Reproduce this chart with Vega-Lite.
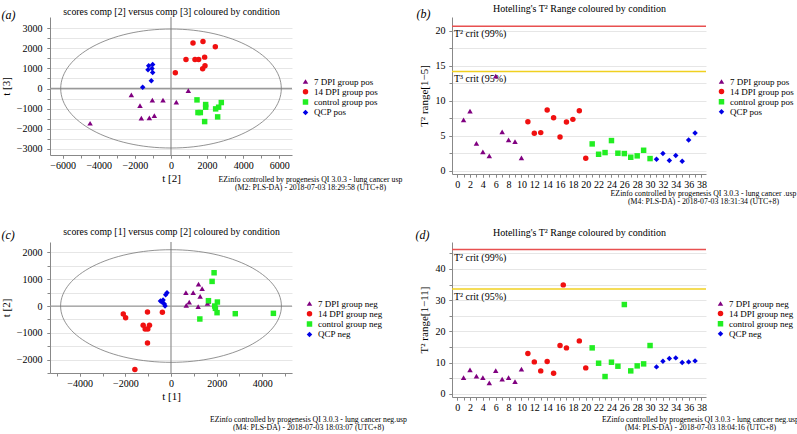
{
"$schema":"https://vega.github.io/schema/vega-lite/v6.json",
"padding":{"left":0,"top":3,"right":0,"bottom":0},
"config":{
 "font":"Liberation Serif",
 "view":{"stroke":null},
 "axis":{"labelFont":"Liberation Serif","titleFont":"Liberation Serif","labelFontSize":10,"titleFontSize":11,"titleFontWeight":"normal","domainColor":"#888","tickColor":"#888","gridColor":"#e6e6e6","labelColor":"#000","titleColor":"#000","tickSize":3,"labelPadding":2,"labelOverlap":false,"labelFlush":false},
 "legend":{"labelFont":"Liberation Serif","labelFontSize":9,"labelColor":"#000"},
 "title":{"font":"Liberation Serif","fontWeight":"normal","color":"#000"}
},
"resolve":{"scale":{"color":"independent","shape":"independent","stroke":"independent"}},
"columns":2,"bounds":"flush","align":"all","spacing":{"row":68,"column":148},
"concat":[
 {"width":242,"height":138,
  "resolve":{"axis":{"x":"independent","y":"independent"}},
  "layer":[
   {"data":{"values":[{}]},"mark":{"type":"rule","color":"#999","strokeWidth":1.3},"encoding":{"x":{"datum":0,"scale":{"domain":[-6700,6700],"nice":false,"zero":false},"axis":{"orient":"bottom","values":[-6000,-5000,-4000,-3000,-2000,-1000,0,1000,2000,3000,4000,5000,6000],"labels":false,"ticks":true,"domain":false,"grid":false,"title":["EZinfo controlled by progenesis QI 3.0.3 - lung cancer usp","(M2: PLS-DA) - 2018-07-03 18:29:58 (UTC+8)"],"titleX":260,"titleY":20,"titleAlign":"center","titleBaseline":"top","titleFontSize":7.8,"titleLineHeight":8.4}}}},
   {"data":{"values":[{}]},"mark":{"type":"rule","color":"#999","strokeWidth":1.3},"encoding":{"y":{"datum":0,"scale":{"domain":[-3300,3550],"nice":false,"zero":false},"axis":{"orient":"left","values":[-3000,-2500,-2000,-1500,-1000,-500,0,500,1000,1500,2000,2500,3000],"labels":false,"ticks":true,"domain":false,"grid":true,"title":"(a)","titleAngle":0,"titleX":-49,"titleY":-3,"titleAlign":"left","titleBaseline":"middle","titleFontSize":12,"titleFontStyle":"italic"}}}},
   {"data":{"values":[{}]},"mark":{"type":"point","filled":false,"stroke":"#777","strokeWidth":0.8,"opacity":1,"size":48664,"shape":"M-1,0C-1,-0.2979,-0.5523,-0.5394,0,-0.5394C0.5523,-0.5394,1,-0.2979,1,0C1,0.2979,0.5523,0.5394,0,0.5394C-0.5523,0.5394,-1,0.2979,-1,0Z"},
    "encoding":{"x":{"datum":0,"scale":{"domain":[-6700,6700],"nice":false,"zero":false},"axis":{"orient":"top","title":"scores comp [2] versus comp [3] coloured by condition","titleFontSize":9.8,"titleX":121,"titleY":-6,"titleAlign":"center","titleBaseline":"middle","labels":false,"ticks":false,"domain":false,"grid":false}},"y":{"datum":0,"scale":{"domain":[-3300,3550],"nice":false,"zero":false},"axis":null}}},
   {"data":{"values":[
   {"x":-4480,"y":-1724,"g":"7 DPI group pos"},{"x":-2196,"y":-315,"g":"7 DPI group pos"},{"x":-1716,"y":-845,"g":"7 DPI group pos"},{"x":-1642,"y":-1475,"g":"7 DPI group pos"},{"x":-1199,"y":-1459,"g":"7 DPI group pos"},{"x":-1033,"y":-580,"g":"7 DPI group pos"},{"x":-922,"y":-1343,"g":"7 DPI group pos"},{"x":-443,"y":-580,"g":"7 DPI group pos"},{"x":295,"y":-680,"g":"7 DPI group pos"},{"x":959,"y":-99,"g":"7 DPI group pos"},
   {"x":240,"y":779,"g":"14 DPI group pos"},{"x":830,"y":1442,"g":"14 DPI group pos"},{"x":1218,"y":2254,"g":"14 DPI group pos"},{"x":1328,"y":1442,"g":"14 DPI group pos"},{"x":1531,"y":1442,"g":"14 DPI group pos"},{"x":1771,"y":2337,"g":"14 DPI group pos"},{"x":1863,"y":1558,"g":"14 DPI group pos"},{"x":1753,"y":978,"g":"14 DPI group pos"},{"x":1882,"y":1127,"g":"14 DPI group pos"},{"x":2454,"y":2072,"g":"14 DPI group pos"},
   {"x":1439,"y":-564,"g":"control group pos"},{"x":1919,"y":-796,"g":"control group pos"},{"x":1919,"y":-928,"g":"control group pos"},{"x":1494,"y":-1193,"g":"control group pos"},{"x":1624,"y":-1193,"g":"control group pos"},{"x":1863,"y":-1641,"g":"control group pos"},{"x":2472,"y":-1011,"g":"control group pos"},{"x":2638,"y":-928,"g":"control group pos"},{"x":2786,"y":-696,"g":"control group pos"},{"x":2583,"y":-1409,"g":"control group pos"},
   {"x":-1236,"y":1127,"g":"QCP pos"},{"x":-1015,"y":1193,"g":"QCP pos"},{"x":-1273,"y":928,"g":"QCP pos"},{"x":-1052,"y":995,"g":"QCP pos"},{"x":-1015,"y":796,"g":"QCP pos"},{"x":-1089,"y":381,"g":"QCP pos"},{"x":-1568,"y":66,"g":"QCP pos"}
   ]},
    "mark":{"type":"point","filled":true,"size":30,"opacity":1},
    "encoding":{
     "x":{"field":"x","type":"quantitative","scale":{"domain":[-6700,6700],"nice":false,"zero":false},"axis":{"orient":"bottom","title":"t [2]","format":"d","values":[-6000,-4000,-2000,0,2000,4000,6000],"labelOverlap":false,"grid":false,"titlePadding":2}},
     "y":{"field":"y","type":"quantitative","scale":{"domain":[-3300,3550],"nice":false,"zero":false},"axis":{"orient":"left","title":"t [3]","format":"d","values":[-3000,-2000,-1000,0,1000,2000,3000],"labelOverlap":false,"grid":false,"labelPadding":5,"titlePadding":5}},
     "color":{"field":"g","type":"nominal","scale":{"domain":["7 DPI group pos","14 DPI group pos","control group pos","QCP pos"],"range":["#800080","#f01010","#22ee22","#0000e6"]},"legend":{"title":null,"orient":"none","legendX":251,"legendY":60,"symbolSize":30,"rowPadding":0.3,"clipHeight":9,"padding":0,"labelOffset":4,"labelFontSize":9}},
     "shape":{"field":"g","type":"nominal","scale":{"domain":["7 DPI group pos","14 DPI group pos","control group pos","QCP pos"],"range":["triangle-up","circle","square","diamond"]},"legend":{"title":null,"orient":"none","legendX":251,"legendY":60,"symbolSize":30,"rowPadding":0.3,"clipHeight":9,"padding":0,"labelOffset":4,"labelFontSize":9}}
    }}
  ]
 },
 {"width":254,"height":157,
  "resolve":{"axis":{"x":"independent","y":"independent"}},
  "layer":[
   {"data":{"name":"critb","values":[{"v":20.67,"t":"T² crit (99%)","c":"99"},{"v":14.2,"t":"T³ crit (95%)","c":"95"}]},
    "mark":{"type":"rule","strokeWidth":1.5},
    "encoding":{"y":{"field":"v","type":"quantitative","scale":{"domain":[-0.5,22],"nice":false,"zero":false},"axis":{"orient":"left","values":[0,2.5,5,7.5,10,12.5,15,17.5,20],"labels":false,"ticks":true,"domain":false,"grid":true,"title":"(b)","titleAngle":0,"titleX":-36,"titleY":-4,"titleAlign":"left","titleBaseline":"middle","titleFontSize":12,"titleFontStyle":"italic"}},
     "stroke":{"field":"c","type":"nominal","scale":{"domain":["99","95"],"range":["#e85050","#f0d020"]},"legend":null}}},
   {"data":{"name":"critb"},"transform":[{"filter":"datum.c == '99'"}],
    "mark":{"type":"text","align":"left","baseline":"top","dy":3,"fontSize":10,"font":"Liberation Serif"},
    "encoding":{"x":{"datum":-0.5,"scale":{"domain":[-0.8,38.7],"nice":false,"zero":false},"axis":{"orient":"top","title":"Hotelling's T² Range coloured by condition","titleFontSize":10,"titleX":127,"titleY":-9,"titleAlign":"center","titleBaseline":"middle","labels":false,"ticks":false,"domain":false,"grid":false}},"y":{"field":"v","type":"quantitative","axis":null},"text":{"field":"t"}}},
   {"data":{"name":"critb"},"transform":[{"filter":"datum.c == '95'"}],
    "mark":{"type":"text","align":"left","baseline":"top","dy":3,"fontSize":10,"font":"Liberation Serif"},
    "encoding":{"x":{"datum":-0.5,"axis":{"orient":"bottom","values":[0,1,2,3,4,5,6,7,8,9,10,11,12,13,14,15,16,17,18,19,20,21,22,23,24,25,26,27,28,29,30,31,32,33,34,35,36,37,38],"labels":false,"ticks":true,"domain":false,"grid":false,"title":["EZinfo controlled by progenesis QI 3.0.3 - lung cancer .usp","(M4: PLS-DA) - 2018-07-03 18:31:34 (UTC+8)"],"titleX":251,"titleY":15,"titleAlign":"center","titleBaseline":"top","titleFontSize":7.8,"titleLineHeight":8.8}},"y":{"field":"v","type":"quantitative","axis":null},"text":{"field":"t"}}},
   {"data":{"values":[
   {"i":1,"v":7.24,"g":"7 DPI group pos"},{"i":2,"v":8.52,"g":"7 DPI group pos"},{"i":3,"v":3.9,"g":"7 DPI group pos"},{"i":4,"v":2.67,"g":"7 DPI group pos"},{"i":5,"v":2.1,"g":"7 DPI group pos"},{"i":6,"v":13.52,"g":"7 DPI group pos"},{"i":7,"v":5.52,"g":"7 DPI group pos"},{"i":8,"v":4.38,"g":"7 DPI group pos"},{"i":9,"v":4.14,"g":"7 DPI group pos"},{"i":10,"v":1.81,"g":"7 DPI group pos"},
   {"i":11,"v":7.0,"g":"14 DPI group pos"},{"i":12,"v":5.33,"g":"14 DPI group pos"},{"i":13,"v":5.43,"g":"14 DPI group pos"},{"i":14,"v":8.67,"g":"14 DPI group pos"},{"i":15,"v":7.57,"g":"14 DPI group pos"},{"i":16,"v":4.81,"g":"14 DPI group pos"},{"i":17,"v":6.95,"g":"14 DPI group pos"},{"i":18,"v":7.33,"g":"14 DPI group pos"},{"i":19,"v":8.57,"g":"14 DPI group pos"},{"i":20,"v":1.76,"g":"14 DPI group pos"},
   {"i":21,"v":3.81,"g":"control group pos"},{"i":22,"v":2.33,"g":"control group pos"},{"i":23,"v":2.57,"g":"control group pos"},{"i":24,"v":4.29,"g":"control group pos"},{"i":25,"v":2.48,"g":"control group pos"},{"i":26,"v":2.43,"g":"control group pos"},{"i":27,"v":1.9,"g":"control group pos"},{"i":28,"v":2.1,"g":"control group pos"},{"i":29,"v":2.9,"g":"control group pos"},{"i":30,"v":1.71,"g":"control group pos"},
   {"i":31,"v":1.62,"g":"QCP pos"},{"i":32,"v":2.43,"g":"QCP pos"},{"i":33,"v":1.43,"g":"QCP pos"},{"i":34,"v":2.14,"g":"QCP pos"},{"i":35,"v":1.33,"g":"QCP pos"},{"i":36,"v":4.38,"g":"QCP pos"},{"i":37,"v":5.38,"g":"QCP pos"}
   ]},
    "mark":{"type":"point","filled":true,"size":30,"opacity":1},
    "encoding":{
     "x":{"field":"i","type":"quantitative","scale":{"domain":[-0.8,38.7],"nice":false,"zero":false},"axis":{"orient":"bottom","title":null,"values":[0,2,4,6,8,10,12,14,16,18,20,22,24,26,28,30,32,34,36,38],"labelOverlap":false,"grid":false}},
     "y":{"field":"v","type":"quantitative","scale":{"domain":[-0.5,22],"nice":false,"zero":false},"axis":{"orient":"left","title":"T² range[1−5]","values":[0,5,10,15,20],"labelOverlap":false,"grid":false,"labelPadding":4,"titlePadding":6}},
     "color":{"field":"g","type":"nominal","scale":{"domain":["7 DPI group pos","14 DPI group pos","control group pos","QCP pos"],"range":["#800080","#f01010","#22ee22","#0000e6"]},"legend":{"title":null,"orient":"none","legendX":265,"legendY":60,"symbolSize":30,"rowPadding":0.1,"clipHeight":9,"padding":0,"labelOffset":4,"labelFontSize":9}},
     "shape":{"field":"g","type":"nominal","scale":{"domain":["7 DPI group pos","14 DPI group pos","control group pos","QCP pos"],"range":["triangle-up","circle","square","diamond"]},"legend":{"title":null,"orient":"none","legendX":265,"legendY":60,"symbolSize":30,"rowPadding":0.1,"clipHeight":9,"padding":0,"labelOffset":4,"labelFontSize":9}}
    }}
  ]
 },
 {"width":242,"height":131,
  "resolve":{"axis":{"x":"independent","y":"independent"}},
  "layer":[
   {"data":{"values":[{}]},"mark":{"type":"rule","color":"#999","strokeWidth":1.3},"encoding":{"x":{"datum":0,"scale":{"domain":[-5300,5300],"nice":false,"zero":false},"axis":{"orient":"bottom","values":[-5000,-4000,-3000,-2000,-1000,0,1000,2000,3000,4000,5000],"labels":false,"ticks":true,"domain":false,"grid":false,"title":["EZinfo controlled by progenesis QI 3.0.3 - lung cancer neg.usp","(M4: PLS-DA) - 2018-07-03 18:03:07 (UTC+8)"],"titleX":258,"titleY":42,"titleAlign":"center","titleBaseline":"top","titleFontSize":7.8,"titleLineHeight":8.4}}}},
   {"data":{"values":[{}]},"mark":{"type":"rule","color":"#999","strokeWidth":1.3},"encoding":{"y":{"datum":0,"scale":{"domain":[-2500,2390],"nice":false,"zero":false},"axis":{"orient":"left","values":[-2500,-2000,-1500,-1000,-500,0,500,1000,1500,2000],"labels":false,"ticks":true,"domain":false,"grid":true,"title":"(c)","titleAngle":0,"titleX":-49,"titleY":-8,"titleAlign":"left","titleBaseline":"middle","titleFontSize":12,"titleFontStyle":"italic"}}}},
   {"data":{"values":[{}]},"mark":{"type":"point","filled":false,"stroke":"#777","strokeWidth":0.8,"opacity":1,"size":48753,"shape":"M-1,0C-1,-0.2817,-0.5523,-0.51,0,-0.51C0.5523,-0.51,1,-0.2817,1,0C1,0.2817,0.5523,0.51,0,0.51C-0.5523,0.51,-1,0.2817,-1,0Z"},
    "encoding":{"x":{"datum":0,"scale":{"domain":[-5300,5300],"nice":false,"zero":false},"axis":{"orient":"top","title":"scores comp [1] versus comp [2] coloured by condition","titleFontSize":9.8,"titleX":121,"titleY":-11,"titleAlign":"center","titleBaseline":"middle","labels":false,"ticks":false,"domain":false,"grid":false}},"y":{"datum":0,"scale":{"domain":[-2500,2390],"nice":false,"zero":false},"axis":null}}},
   {"data":{"values":[
   {"x":653,"y":497,"g":"7 DPI group neg"},{"x":972,"y":497,"g":"7 DPI group neg"},{"x":1205,"y":820,"g":"7 DPI group neg"},{"x":1364,"y":646,"g":"7 DPI group neg"},{"x":1277,"y":360,"g":"7 DPI group neg"},{"x":798,"y":149,"g":"7 DPI group neg"},{"x":668,"y":25,"g":"7 DPI group neg"},{"x":1190,"y":-25,"g":"7 DPI group neg"},{"x":1597,"y":99,"g":"7 DPI group neg"},{"x":1640,"y":174,"g":"7 DPI group neg"},
   {"x":-2090,"y":-298,"g":"14 DPI group neg"},{"x":-1988,"y":-435,"g":"14 DPI group neg"},{"x":-1030,"y":-224,"g":"14 DPI group neg"},{"x":-377,"y":-236,"g":"14 DPI group neg"},{"x":-1219,"y":-720,"g":"14 DPI group neg"},{"x":-943,"y":-720,"g":"14 DPI group neg"},{"x":-1132,"y":-857,"g":"14 DPI group neg"},{"x":-1016,"y":-857,"g":"14 DPI group neg"},{"x":-1030,"y":-1379,"g":"14 DPI group neg"},{"x":-1582,"y":-2373,"g":"14 DPI group neg"},
   {"x":1887,"y":1242,"g":"control group neg"},{"x":1800,"y":919,"g":"control group neg"},{"x":1640,"y":199,"g":"control group neg"},{"x":2032,"y":149,"g":"control group neg"},{"x":1916,"y":0,"g":"control group neg"},{"x":1945,"y":-87,"g":"control group neg"},{"x":2017,"y":-248,"g":"control group neg"},{"x":1263,"y":-484,"g":"control group neg"},{"x":2816,"y":-286,"g":"control group neg"},{"x":4485,"y":-273,"g":"control group neg"},
   {"x":-174,"y":497,"g":"QCP neg"},{"x":-232,"y":422,"g":"QCP neg"},{"x":-464,"y":186,"g":"QCP neg"},{"x":-348,"y":224,"g":"QCP neg"},{"x":-392,"y":149,"g":"QCP neg"},{"x":-290,"y":75,"g":"QCP neg"},{"x":-261,"y":0,"g":"QCP neg"}
   ]},
    "mark":{"type":"point","filled":true,"size":30,"opacity":1},
    "encoding":{
     "x":{"field":"x","type":"quantitative","scale":{"domain":[-5300,5300],"nice":false,"zero":false},"axis":{"orient":"bottom","title":"t [1]","format":"d","values":[-4000,-2000,0,2000,4000],"labelOverlap":false,"grid":false,"titlePadding":2}},
     "y":{"field":"y","type":"quantitative","scale":{"domain":[-2500,2390],"nice":false,"zero":false},"axis":{"orient":"left","title":"t [2]","format":"d","values":[-2000,-1000,0,1000,2000],"labelOverlap":false,"grid":false,"labelPadding":5,"titlePadding":5}},
     "color":{"field":"g","type":"nominal","scale":{"domain":["7 DPI group neg","14 DPI group neg","control group neg","QCP neg"],"range":["#800080","#f01010","#22ee22","#0000e6"]},"legend":{"title":null,"orient":"none","legendX":255,"legendY":57,"symbolSize":30,"rowPadding":0.3,"clipHeight":9,"padding":0,"labelOffset":4,"labelFontSize":9}},
     "shape":{"field":"g","type":"nominal","scale":{"domain":["7 DPI group neg","14 DPI group neg","control group neg","QCP neg"],"range":["triangle-up","circle","square","diamond"]},"legend":{"title":null,"orient":"none","legendX":255,"legendY":57,"symbolSize":30,"rowPadding":0.3,"clipHeight":9,"padding":0,"labelOffset":4,"labelFontSize":9}}
    }}
  ]
 },
 {"width":254,"height":155,
  "resolve":{"axis":{"x":"independent","y":"independent"}},
  "layer":[
   {"data":{"name":"critd","values":[{"v":46.2,"t":"T² crit (99%)","c":"99"},{"v":33.6,"t":"T² crit (95%)","c":"95"}]},
    "mark":{"type":"rule","strokeWidth":1.5},
    "encoding":{"y":{"field":"v","type":"quantitative","scale":{"domain":[-1,48.6],"nice":false,"zero":false},"axis":{"orient":"left","values":[0,5,10,15,20,25,30,35,40,45],"labels":false,"ticks":true,"domain":false,"grid":true,"title":"(d)","titleAngle":0,"titleX":-37,"titleY":-8,"titleAlign":"left","titleBaseline":"middle","titleFontSize":12,"titleFontStyle":"italic"}},
     "stroke":{"field":"c","type":"nominal","scale":{"domain":["99","95"],"range":["#e85050","#f0d020"]},"legend":null}}},
   {"data":{"name":"critd"},"transform":[{"filter":"datum.c == '99'"}],
    "mark":{"type":"text","align":"left","baseline":"top","dy":3,"fontSize":10,"font":"Liberation Serif"},
    "encoding":{"x":{"datum":-0.5,"scale":{"domain":[-0.8,38.7],"nice":false,"zero":false},"axis":{"orient":"top","title":"Hotelling's T² Range coloured by condition","titleFontSize":10,"titleX":127,"titleY":-10,"titleAlign":"center","titleBaseline":"middle","labels":false,"ticks":false,"domain":false,"grid":false}},"y":{"field":"v","type":"quantitative","axis":null},"text":{"field":"t"}}},
   {"data":{"name":"critd"},"transform":[{"filter":"datum.c == '95'"}],
    "mark":{"type":"text","align":"left","baseline":"top","dy":3,"fontSize":10,"font":"Liberation Serif"},
    "encoding":{"x":{"datum":-0.5,"axis":{"orient":"bottom","values":[0,1,2,3,4,5,6,7,8,9,10,11,12,13,14,15,16,17,18,19,20,21,22,23,24,25,26,27,28,29,30,31,32,33,34,35,36,37,38],"labels":false,"ticks":true,"domain":false,"grid":false,"title":["EZinfo controlled by progenesis QI 3.0.3 - lung cancer neg.usp","(M4: PLS-DA) - 2018-07-03 18:04:16 (UTC+8)"],"titleX":248,"titleY":18,"titleAlign":"center","titleBaseline":"top","titleFontSize":7.8,"titleLineHeight":8.8}},"y":{"field":"v","type":"quantitative","axis":null},"text":{"field":"t"}}},
   {"data":{"values":[
   {"i":1,"v":5.23,"g":"7 DPI group neg"},{"i":2,"v":7.68,"g":"7 DPI group neg"},{"i":3,"v":5.65,"g":"7 DPI group neg"},{"i":4,"v":5.23,"g":"7 DPI group neg"},{"i":5,"v":3.52,"g":"7 DPI group neg"},{"i":6,"v":7.47,"g":"7 DPI group neg"},{"i":7,"v":4.69,"g":"7 DPI group neg"},{"i":8,"v":5.23,"g":"7 DPI group neg"},{"i":9,"v":3.95,"g":"7 DPI group neg"},{"i":10,"v":7.89,"g":"7 DPI group neg"},
   {"i":11,"v":12.91,"g":"14 DPI group neg"},{"i":12,"v":10.24,"g":"14 DPI group neg"},{"i":13,"v":7.36,"g":"14 DPI group neg"},{"i":14,"v":10.35,"g":"14 DPI group neg"},{"i":15,"v":6.61,"g":"14 DPI group neg"},{"i":16,"v":15.47,"g":"14 DPI group neg"},{"i":17,"v":14.72,"g":"14 DPI group neg"},{"i":16.5,"v":34.88,"g":"14 DPI group neg"},{"i":19,"v":16.96,"g":"14 DPI group neg"},{"i":20,"v":8.32,"g":"14 DPI group neg"},
   {"i":21,"v":14.72,"g":"control group neg"},{"i":22,"v":9.81,"g":"control group neg"},{"i":23,"v":5.55,"g":"control group neg"},{"i":24,"v":10.13,"g":"control group neg"},{"i":25,"v":8.85,"g":"control group neg"},{"i":26,"v":28.59,"g":"control group neg"},{"i":27,"v":7.36,"g":"control group neg"},{"i":28,"v":8.96,"g":"control group neg"},{"i":29,"v":9.6,"g":"control group neg"},{"i":30,"v":15.47,"g":"control group neg"},
   {"i":31,"v":8.64,"g":"QCP neg"},{"i":32,"v":10.45,"g":"QCP neg"},{"i":33,"v":11.31,"g":"QCP neg"},{"i":34,"v":11.52,"g":"QCP neg"},{"i":35,"v":10.03,"g":"QCP neg"},{"i":36,"v":10.24,"g":"QCP neg"},{"i":37,"v":10.56,"g":"QCP neg"}
   ]},
    "mark":{"type":"point","filled":true,"size":30,"opacity":1},
    "encoding":{
     "x":{"field":"i","type":"quantitative","scale":{"domain":[-0.8,38.7],"nice":false,"zero":false},"axis":{"orient":"bottom","title":null,"values":[0,2,4,6,8,10,12,14,16,18,20,22,24,26,28,30,32,34,36,38],"labelOverlap":false,"grid":false}},
     "y":{"field":"v","type":"quantitative","scale":{"domain":[-1,48.6],"nice":false,"zero":false},"axis":{"orient":"left","title":"T² range[1−11]","values":[0,10,20,30,40],"labelOverlap":false,"grid":false,"labelPadding":4,"titlePadding":6}},
     "color":{"field":"g","type":"nominal","scale":{"domain":["7 DPI group neg","14 DPI group neg","control group neg","QCP neg"],"range":["#800080","#f01010","#22ee22","#0000e6"]},"legend":{"title":null,"orient":"none","legendX":264,"legendY":57,"symbolSize":30,"rowPadding":0.1,"clipHeight":9,"padding":0,"labelOffset":4,"labelFontSize":9}},
     "shape":{"field":"g","type":"nominal","scale":{"domain":["7 DPI group neg","14 DPI group neg","control group neg","QCP neg"],"range":["triangle-up","circle","square","diamond"]},"legend":{"title":null,"orient":"none","legendX":264,"legendY":57,"symbolSize":30,"rowPadding":0.1,"clipHeight":9,"padding":0,"labelOffset":4,"labelFontSize":9}}
    }}
  ]
 }
]
}
